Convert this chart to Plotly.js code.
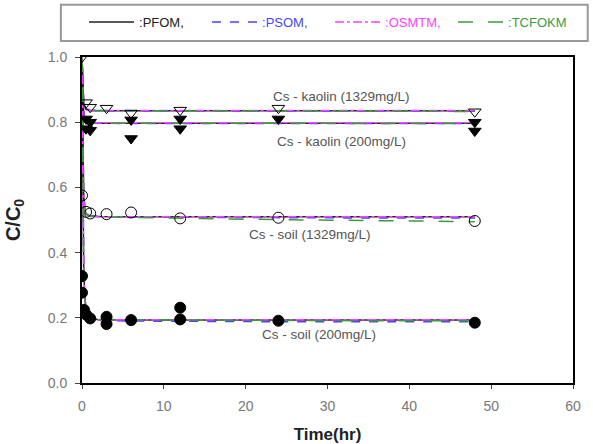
<!DOCTYPE html>
<html>
<head>
<meta charset="utf-8">
<script src="https://cdn.plot.ly/plotly-3.0.1.min.js"></script>
<style>
  html, body { margin: 0; padding: 0; background: #fff; }
  #chart { width: 593px; height: 444px; }
</style>
</head>
<body>
<div id="chart"></div>
<script>
// Measured C/C0 values (time in hours)
const kaolinHighT = [0, 0.5, 1, 3, 6, 12, 24, 48];
const kaolinHighC = [1.0, 0.86, 0.846, 0.843, 0.828, 0.837, 0.843, 0.832];

const kaolinLowT = [0.5, 0.5, 1, 1, 6, 6, 12, 12, 24, 48, 48];
const kaolinLowC = [0.81, 0.78, 0.80, 0.775, 0.807, 0.75, 0.81, 0.78, 0.81, 0.80, 0.773];

const soilHighT = [0, 0.5, 1, 3, 6, 12, 24, 48];
const soilHighC = [0.575, 0.525, 0.52, 0.518, 0.523, 0.505, 0.507, 0.497];

const soilLowT = [0, 0, 0.25, 0.5, 1, 3, 3, 6, 12, 12, 24, 48];
const soilLowC = [0.328, 0.277, 0.224, 0.21, 0.198, 0.203, 0.181, 0.193, 0.231, 0.195, 0.191, 0.185];

// Fitted kinetic model curves
const fitT = [0, 0.1, 0.2, 0.35, 0.5, 1, 2, 6, 12, 24, 36, 48];

const kaolinHighPFOM   = [1.0, 0.90, 0.86, 0.845, 0.839, 0.836, 0.835, 0.835, 0.835, 0.835, 0.835, 0.835];
const kaolinHighPSOM   = [1.0, 0.91, 0.87, 0.85, 0.842, 0.837, 0.835, 0.834, 0.834, 0.834, 0.834, 0.834];
const kaolinHighOSMTM  = [1.0, 0.89, 0.855, 0.843, 0.838, 0.836, 0.836, 0.836, 0.836, 0.836, 0.836, 0.836];
const kaolinHighTCFOKM = [1.0, 0.90, 0.86, 0.846, 0.84, 0.837, 0.836, 0.835, 0.835, 0.834, 0.833, 0.833];

const kaolinLowPFOM   = [1.0, 0.88, 0.83, 0.808, 0.801, 0.798, 0.797, 0.797, 0.797, 0.797, 0.797, 0.797];
const kaolinLowPSOM   = [1.0, 0.89, 0.84, 0.812, 0.803, 0.799, 0.797, 0.796, 0.796, 0.796, 0.796, 0.796];
const kaolinLowOSMTM  = [1.0, 0.87, 0.825, 0.805, 0.80, 0.798, 0.798, 0.798, 0.798, 0.798, 0.798, 0.798];
const kaolinLowTCFOKM = [1.0, 0.885, 0.835, 0.81, 0.802, 0.798, 0.797, 0.797, 0.797, 0.796, 0.796, 0.796];

const soilHighPFOM   = [1.0, 0.70, 0.58, 0.53, 0.518, 0.512, 0.511, 0.51, 0.51, 0.51, 0.51, 0.51];
const soilHighPSOM   = [1.0, 0.72, 0.60, 0.54, 0.522, 0.513, 0.511, 0.509, 0.508, 0.507, 0.506, 0.506];
const soilHighOSMTM  = [1.0, 0.69, 0.57, 0.525, 0.515, 0.511, 0.51, 0.51, 0.51, 0.51, 0.51, 0.51];
const soilHighTCFOKM = [1.0, 0.71, 0.59, 0.535, 0.52, 0.512, 0.51, 0.508, 0.505, 0.501, 0.498, 0.495];

const soilLowPFOM   = [1.0, 0.55, 0.36, 0.26, 0.225, 0.20, 0.194, 0.193, 0.193, 0.193, 0.193, 0.193];
const soilLowPSOM   = [1.0, 0.58, 0.40, 0.28, 0.235, 0.205, 0.193, 0.19, 0.189, 0.188, 0.188, 0.188];
const soilLowOSMTM  = [1.0, 0.53, 0.34, 0.25, 0.22, 0.198, 0.194, 0.194, 0.194, 0.194, 0.194, 0.194];
const soilLowTCFOKM = [1.0, 0.56, 0.37, 0.265, 0.228, 0.202, 0.195, 0.194, 0.193, 0.192, 0.191, 0.191];

const modelNames = [':PFOM,', ':PSOM,', ':OSMTM,', ':TCFOKM'];
const curveLabels = ['Cs - kaolin (1329mg/L)', 'Cs - kaolin (200mg/L)', 'Cs - soil (1329mg/L)', 'Cs - soil (200mg/L)'];
const xTicks = [0, 10, 20, 30, 40, 50, 60];
const yTicks = [0.0, 0.2, 0.4, 0.6, 0.8, 1.0];

const FONT = 'Liberation Sans, Arial, sans-serif';

const modelStyles = [
  { color: '#222222', dash: 'solid' },
  { color: '#4646ff', dash: 'dash' },
  { color: '#ff40ff', dash: 'dashdot' },
  { color: '#3e9a3e', dash: 'longdash' }
];

const fits = [
  [kaolinHighPFOM, kaolinHighPSOM, kaolinHighOSMTM, kaolinHighTCFOKM],
  [kaolinLowPFOM, kaolinLowPSOM, kaolinLowOSMTM, kaolinLowTCFOKM],
  [soilHighPFOM, soilHighPSOM, soilHighOSMTM, soilHighTCFOKM],
  [soilLowPFOM, soilLowPSOM, soilLowOSMTM, soilLowTCFOKM]
];

const traces = [];
fits.forEach((set, si) => {
  set.forEach((vals, mi) => {
    const st = modelStyles[mi];
    traces.push({
      type: 'scatter', mode: 'lines',
      x: fitT, y: vals,
      name: '<span style="color:' + st.color + '">' + modelNames[mi] + '</span>',
      legendgroup: 'm' + mi,
      showlegend: si === 0,
      line: { color: st.color, dash: st.dash, width: 1.5 },
      hoverinfo: 'skip'
    });
  });
});

const markerSets = [
  { x: kaolinHighT, y: kaolinHighC, symbol: 'triangle-down-open' },
  { x: kaolinLowT,  y: kaolinLowC,  symbol: 'triangle-down' },
  { x: soilHighT,   y: soilHighC,   symbol: 'circle-open' },
  { x: soilLowT,    y: soilLowC,    symbol: 'circle' }
];
markerSets.forEach(m => {
  traces.push({
    type: 'scatter', mode: 'markers',
    x: m.x, y: m.y, showlegend: false,
    marker: { symbol: m.symbol, size: 11, color: '#000', line: { color: '#000', width: 1 } }
  });
});

const labelPos = [
  { x: 31.7, y: 0.880 },
  { x: 31.7, y: 0.740 },
  { x: 27.8, y: 0.457 },
  { x: 28.9, y: 0.150 }
];
const annotations = curveLabels.map((t, i) => ({
  x: labelPos[i].x, y: labelPos[i].y, xref: 'x', yref: 'y',
  text: t, showarrow: false,
  font: { family: FONT, size: 13.5, color: '#555' }
}));

const axisFont = { family: FONT, size: 14, color: '#777' };

const layout = {
  width: 593, height: 444,
  margin: { l: 82, r: 20, t: 57, b: 61 },
  paper_bgcolor: '#fff', plot_bgcolor: '#fff',
  showlegend: true,
  legend: {
    orientation: 'h', x: 0.1417, y: 0.984, xanchor: 'left', yanchor: 'top',
    xref: 'container', yref: 'container',
    bgcolor: 'rgba(0,0,0,0)', borderwidth: 0,
    font: { family: FONT, size: 13, color: '#444' },
    itemwidth: 45, entrywidth: 63, entrywidthmode: 'pixels',
    traceorder: 'normal'
  },
  xaxis: {
    range: [0, 60], tickvals: xTicks, ticks: 'outside', ticklen: 4, tickwidth: 1,
    ticklabelstandoff: 5,
    showline: true, linecolor: '#000', linewidth: 2, mirror: true,
    showgrid: false, zeroline: false, tickfont: axisFont,
    title: { text: 'Time(hr)', font: { family: FONT, size: 17, color: '#222', weight: 'bold' }, standoff: 33 }
  },
  yaxis: {
    range: [0, 1.0], tickvals: yTicks, tickformat: '.1f', ticks: 'outside', ticklen: 5, tickwidth: 1,
    ticklabelstandoff: 5,
    showline: true, linecolor: '#000', linewidth: 2, mirror: true,
    showgrid: false, zeroline: false, tickfont: axisFont,
    title: { text: 'C/C<sub>0</sub>', font: { family: FONT, size: 20, color: '#222', weight: 'bold' }, standoff: 22 }
  },
  annotations: annotations,
  shapes: [{
    type: 'rect', xref: 'paper', yref: 'paper',
    x0: -0.043, x1: 1.03, y0: 1.049, y1: 1.16,
    line: { color: '#999', width: 2 }, fillcolor: 'rgba(0,0,0,0)', layer: 'above'
  }]
};

Plotly.newPlot('chart', traces, layout, { displayModeBar: false, staticPlot: true });
</script>
</body>
</html>
